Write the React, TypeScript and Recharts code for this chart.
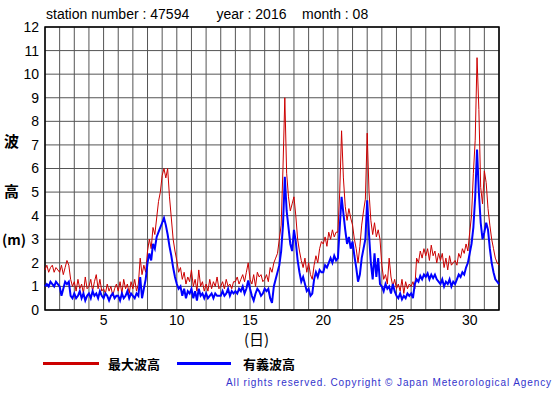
import { LineChart, Line, XAxis, YAxis, CartesianGrid, ReferenceArea } from "recharts";

// 3-hourly wave heights (m), Aug 2016, station 47594
const STEPS_PER_DAY = 8;

const maxWave = [
  1.7, 1.9, 1.6, 1.8, 1.9, 1.6, 1.8, 1.7,
  1.6, 1.9, 1.5, 1.8, 2.1, 1.9, 1.3, 1.0,
  1.2, 0.8, 1.3, 0.9, 1.1, 0.7, 1.4, 0.9,
  1.0, 1.3, 0.8, 1.2, 1.5, 0.9, 1.3, 0.8,
  0.9, 0.7, 1.1, 0.8, 1.0, 0.6, 0.9, 1.1,
  0.8, 1.2, 0.7, 1.3, 0.9, 1.1, 0.7, 1.2,
  0.9, 1.3, 0.8, 1.1, 2.2, 1.5, 1.9, 1.6,
  2.5, 3.0, 2.6, 3.5, 3.2, 3.9, 4.6, 5.0,
  5.7, 6.0, 5.6, 6.0, 4.8, 3.9, 3.0, 2.5,
  2.1, 1.6, 1.8, 1.3, 1.6, 1.1, 1.4, 1.2,
  1.7, 1.0, 1.3, 0.8, 1.7, 1.0, 1.2, 0.8,
  1.1, 0.8, 1.3, 0.9, 1.2, 1.0, 1.4, 0.9,
  1.0, 1.2, 0.9, 1.3, 1.0, 1.1, 0.9, 1.2,
  1.2, 1.4, 1.1, 1.3, 1.5, 1.2, 1.6, 2.0,
  1.3, 1.1, 1.5, 1.0, 1.6, 1.4, 1.5, 1.2,
  1.3, 1.5, 1.2, 1.8, 1.6, 2.0, 2.2, 2.4,
  3.0, 3.6, 6.0, 9.0, 5.8, 4.8, 4.2, 4.5,
  4.8, 4.0, 3.0, 2.5, 2.1, 1.8, 2.2, 1.6,
  2.0, 1.5, 1.3, 1.9, 2.3, 2.0, 2.6, 2.9,
  2.8, 3.1, 2.7, 3.3, 3.0, 3.4, 3.1, 3.3,
  3.3, 5.0, 7.6, 5.6, 4.4, 3.8, 4.3, 3.9,
  3.6, 3.0, 2.6, 2.0, 2.7, 3.6, 4.2, 4.7,
  7.5, 5.0, 3.8, 3.2, 3.7, 3.1, 3.4, 3.0,
  1.9, 1.3, 1.5, 1.1, 2.2, 1.4, 1.0, 1.3,
  0.9, 1.1, 0.8, 1.3, 0.7, 1.2, 0.9, 1.1,
  1.0, 1.2, 0.9, 2.2, 2.0, 2.5, 2.2, 2.6,
  2.3, 2.6, 2.1, 2.75, 2.3, 2.5, 2.0, 2.4,
  2.1, 2.4, 1.8, 2.2, 1.7, 2.3, 1.9, 2.0,
  2.1, 1.9, 2.4, 2.2, 2.6, 2.4, 2.8, 2.5,
  3.3, 4.0, 5.8, 7.2, 10.7, 8.5, 5.2, 4.5,
  5.9, 5.4, 4.3, 3.6, 3.0, 2.6, 2.2, 2.0,
  1.9,
];

const sigWave = [
  1.0, 1.1, 1.0, 1.2, 1.1, 1.0, 1.2, 1.1,
  1.0, 0.6, 0.9, 1.2, 1.1, 1.2, 0.6, 0.5,
  0.7, 0.5, 0.6, 0.8, 0.5, 0.7, 0.4, 0.6,
  0.7, 0.5, 0.8, 0.6, 0.7, 0.5, 0.8, 0.6,
  0.5, 0.7, 0.6, 0.4, 0.6, 0.7, 0.5, 0.6,
  0.6, 0.4, 0.7, 0.5, 0.6, 0.8, 0.5, 0.7,
  0.6, 0.5, 0.7, 0.6, 1.4, 0.5, 0.9, 1.3,
  2.0, 2.4, 2.1, 2.8, 2.6, 3.1, 3.3, 3.5,
  3.7, 3.9, 3.6, 3.2, 2.7, 2.3, 1.8, 1.4,
  1.1, 0.9, 1.0, 0.6, 0.9, 0.5, 0.8, 0.7,
  0.9, 0.5, 0.8, 0.4, 0.9, 0.6, 0.7, 0.5,
  0.7, 0.5, 0.6, 0.7, 0.5, 0.7, 0.6, 0.6,
  0.6, 0.8, 0.6, 0.7, 0.9, 0.6, 0.8, 0.7,
  0.8, 0.7, 0.9, 0.8, 1.0, 0.7, 0.9, 1.25,
  0.9, 0.6, 0.4, 0.7, 0.9, 0.8, 0.6, 0.7,
  0.9, 0.8, 0.9, 0.5, 0.3, 1.0, 1.3, 1.6,
  1.9, 2.5, 3.6, 5.65, 4.2, 3.5, 2.8, 2.5,
  3.4, 2.9, 2.1, 1.6, 1.2, 1.4, 1.1, 0.8,
  0.9, 0.6, 0.7, 1.3, 1.6, 1.4, 1.7, 1.6,
  1.6, 1.9, 1.8, 2.0, 2.2, 2.0, 2.3, 2.1,
  2.2, 3.5, 4.8, 4.1, 3.4, 2.8, 3.1, 2.6,
  2.9, 2.3, 1.8, 1.2, 1.5, 2.2, 2.6, 3.0,
  4.65, 3.2, 2.0, 1.3, 2.4, 1.4, 2.2, 1.1,
  1.0, 0.8, 1.1, 0.9, 1.0, 0.7, 1.1, 0.8,
  0.6, 0.5, 0.7, 0.45, 0.6, 0.5, 0.7, 0.6,
  0.7, 0.5, 1.1, 1.3, 1.2, 1.45, 1.3, 1.5,
  1.4, 1.55, 1.3, 1.5, 1.35, 1.5, 1.3, 1.2,
  1.1, 1.3, 1.0, 1.2, 1.1, 1.3, 1.0, 1.2,
  1.1, 1.3, 1.5, 1.4, 1.6, 1.5, 1.8, 2.0,
  2.4, 2.8, 3.5, 4.8, 6.8, 5.0, 3.7, 3.0,
  3.3, 3.7, 3.4, 2.6, 2.0, 1.6, 1.3, 1.2,
  1.1,
];

const dayTicks = Array.from({ length: 32 }, (_, i) => i + 1);
const heightTicks = [0, 1, 2, 3, 4, 5, 6, 7, 8, 9, 10, 11, 12];

const data = maxWave.map((v, i) => ({
  day: 1 + i / STEPS_PER_DAY,
  max: v,
  sig: sigWave[i],
}));

const FONT = "'Liberation Sans', Arial, sans-serif";
const JP = "'Noto Sans CJK JP', sans-serif";

const App = () => {
  return (
    <div
      style={{
        position: "absolute",
        left: 0,
        top: 0,
        width: 555,
        height: 395,
        background: "#fff",
        fontFamily: FONT,
      }}
    >
      <LineChart
        width={555}
        height={395}
        data={data}
        margin={{ top: 27, right: 56, left: 0, bottom: 0 }}
      >
        <CartesianGrid stroke="#555" strokeWidth={1} />
        <XAxis
          dataKey="day"
          type="number"
          domain={[1, 32]}
          ticks={dayTicks}
          interval={0}
          height={85}
          tickSize={0}
          tickMargin={5}
          axisLine={false}
          tickFormatter={(v: number) => (v % 5 === 0 ? String(v) : "")}
          tick={{ fill: "#000", fontSize: 14, fontFamily: FONT }}
        />
        <YAxis
          type="number"
          domain={[0, 12]}
          ticks={heightTicks}
          interval={0}
          width={45}
          tickSize={0}
          tickMargin={6}
          axisLine={false}
          tick={{ fill: "#000", fontSize: 14, fontFamily: FONT }}
        />
        <Line
          type="linear"
          dataKey="max"
          stroke="#cc0000"
          strokeWidth={1}
          dot={false}
          isAnimationActive={false}
        />
        <Line
          type="linear"
          dataKey="sig"
          stroke="#0000ff"
          strokeWidth={2}
          dot={false}
          isAnimationActive={false}
        />
        <ReferenceArea
          x1={1}
          x2={32}
          y1={0}
          y2={12}
          fill="none"
          stroke="#000"
          strokeWidth={1.5}
          fillOpacity={0}
        />
      </LineChart>

      {/* title */}
      <div style={{ position: "absolute", left: 46, top: 6, fontSize: 14, whiteSpace: "pre" }}>
        {"station number : 47594       year : 2016    month : 08"}
      </div>

      {/* y axis title */}
      <div style={{ position: "absolute", left: 4, top: 130, fontSize: 15, fontFamily: JP, fontWeight: 700 }}>波</div>
      <div style={{ position: "absolute", left: 4, top: 180, fontSize: 15, fontFamily: JP, fontWeight: 700 }}>高</div>
      <div style={{ position: "absolute", left: 2, top: 229, fontSize: 14, fontFamily: JP, fontWeight: 700 }}>(m)</div>

      {/* x axis title */}
      <div style={{ position: "absolute", left: 244, top: 328, fontSize: 15, fontFamily: JP }}>(日)</div>

      {/* legend */}
      <div style={{ position: "absolute", left: 43, top: 362, width: 56, height: 3, background: "#cc0000" }} />
      <div style={{ position: "absolute", left: 108, top: 354, fontSize: 13, fontFamily: JP, fontWeight: 700 }}>最大波高</div>
      <div style={{ position: "absolute", left: 177, top: 362, width: 54, height: 3, background: "#0000ff" }} />
      <div style={{ position: "absolute", left: 243, top: 354, fontSize: 13, fontFamily: JP, fontWeight: 700 }}>有義波高</div>

      {/* copyright */}
      <div
        style={{
          position: "absolute",
          left: 226,
          top: 377,
          fontSize: 10,
          color: "#3333cc",
          letterSpacing: 0.9,
          whiteSpace: "pre",
        }}
      >
        All rights reserved. Copyright © Japan Meteorological Agency
      </div>
    </div>
  );
};

export default App;
